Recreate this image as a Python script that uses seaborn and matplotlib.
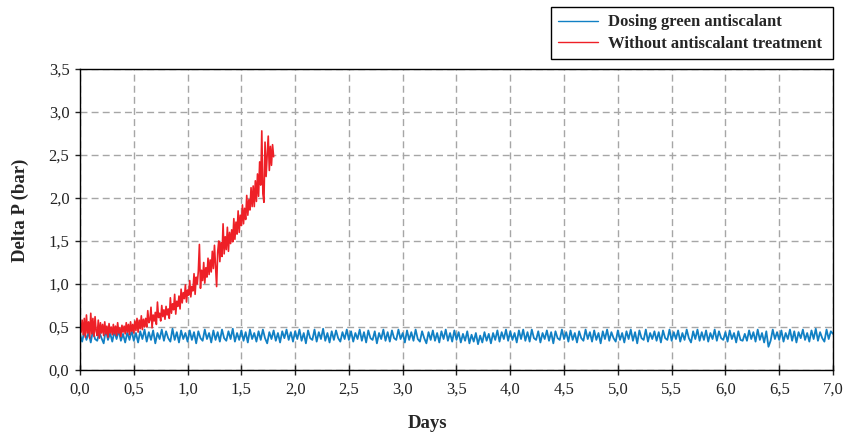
import numpy as np
import pandas as pd
import matplotlib
matplotlib.use("Agg")
import matplotlib.pyplot as plt
from matplotlib.ticker import FuncFormatter
import seaborn as sns

# ---- data ----
series_names = ["Dosing green antiscalant", "Without antiscalant treatment"]
x_ticks = [0.0, 0.5, 1.0, 1.5, 2.0, 2.5, 3.0, 3.5, 4.0, 4.5, 5.0, 5.5, 6.0, 6.5, 7.0]
y_ticks = [0.0, 0.5, 1.0, 1.5, 2.0, 2.5, 3.0, 3.5]

# red series: 0.00 .. 1.80 days, every 0.01 day
red_dp = [
    0.52, 0.44, 0.58, 0.41, 0.60, 0.38, 0.64, 0.43, 0.56, 0.37, 0.66,
    0.42, 0.60, 0.39, 0.62, 0.45, 0.40, 0.58, 0.37, 0.55, 0.43,
    0.53, 0.40, 0.56, 0.42, 0.51, 0.38, 0.54, 0.43, 0.50, 0.41,
    0.53, 0.42, 0.51, 0.40, 0.55, 0.43, 0.49, 0.39, 0.52, 0.44,
    0.51, 0.42, 0.55, 0.44, 0.53, 0.41, 0.56, 0.45, 0.53, 0.43,
    0.57, 0.46, 0.60, 0.44, 0.58, 0.48, 0.63, 0.47, 0.59, 0.50,
    0.60, 0.50, 0.69, 0.55, 0.58, 0.73, 0.49, 0.64, 0.57, 0.67,
    0.53, 0.79, 0.61, 0.66, 0.57, 0.75, 0.62, 0.70, 0.59, 0.74,
    0.64, 0.71, 0.60, 0.84, 0.66, 0.77, 0.70, 0.88, 0.65, 0.80,
    0.74, 0.86, 0.71, 0.94, 0.78, 0.90, 0.83, 0.99, 0.79, 0.93,
    0.87, 1.04, 0.85, 0.97, 0.92, 1.12, 0.88, 1.08, 1.00, 1.15,
    1.46, 0.95, 1.16, 1.04, 1.25, 1.01, 1.19, 1.08, 1.30, 1.11,
    1.28, 1.14, 1.38, 1.18, 1.45, 1.22, 0.97, 1.37, 1.50, 1.26,
    1.48, 1.32, 1.70, 1.35, 1.55, 1.40, 1.66, 1.38, 1.60, 1.47,
    1.63, 1.49, 1.76, 1.52, 1.72, 1.58, 1.85, 1.60, 1.80, 1.68,
    1.92, 1.70, 1.88, 1.75, 2.03, 1.80, 1.98, 1.86, 2.12, 1.90,
    2.14, 1.90, 2.20, 1.96, 2.28, 2.02, 2.42, 2.15, 2.78, 2.05,
    1.95, 2.65, 2.25, 2.50, 2.72, 2.32, 2.60, 2.38, 2.62, 2.48,
]

# blue series: 0.00 .. 7.00 days, every 0.02 day
blue_dp = [
    0.41, 0.33, 0.45, 0.35, 0.44, 0.32, 0.46, 0.36, 0.34, 0.44, 0.37, 0.31, 0.47, 0.35, 0.43, 0.33, 0.45, 0.36, 0.46, 0.34, 0.42, 0.32, 0.44, 0.35, 0.46,
    0.34, 0.43, 0.32, 0.45, 0.36, 0.47, 0.33, 0.44, 0.35, 0.46, 0.31, 0.43, 0.36, 0.47, 0.34, 0.45, 0.37, 0.33, 0.48, 0.35, 0.44, 0.32, 0.46, 0.36, 0.43,
    0.33, 0.46, 0.35, 0.44, 0.31, 0.45, 0.37, 0.34, 0.47, 0.36, 0.43, 0.32, 0.46, 0.35, 0.44, 0.33, 0.47, 0.37, 0.34, 0.45, 0.36, 0.48, 0.33, 0.43, 0.35,
    0.46, 0.34, 0.44, 0.32, 0.47, 0.36, 0.43, 0.33, 0.45, 0.35, 0.47, 0.37, 0.31, 0.44, 0.36, 0.46, 0.34, 0.43, 0.32, 0.45, 0.37, 0.47, 0.35, 0.44, 0.33,
    0.45, 0.36, 0.47, 0.34, 0.43, 0.31, 0.46, 0.37, 0.35, 0.47, 0.33, 0.44, 0.36, 0.48, 0.34, 0.43, 0.32, 0.45, 0.35, 0.46, 0.37, 0.33, 0.44, 0.36, 0.47,
    0.35, 0.45, 0.33, 0.43, 0.36, 0.47, 0.34, 0.44, 0.32, 0.46, 0.37, 0.35, 0.45, 0.31, 0.43, 0.36, 0.47, 0.34, 0.44, 0.33, 0.46, 0.37, 0.35, 0.47, 0.36,
    0.43, 0.32, 0.46, 0.35, 0.44, 0.34, 0.47, 0.36, 0.33, 0.45, 0.37, 0.31, 0.44, 0.35, 0.46, 0.34, 0.43, 0.32, 0.45, 0.36, 0.47, 0.34, 0.43, 0.33, 0.46,
    0.35, 0.44, 0.32, 0.42, 0.34, 0.45, 0.31, 0.41, 0.33, 0.43, 0.30, 0.40, 0.32, 0.44, 0.34, 0.42, 0.31, 0.43, 0.35, 0.46, 0.33, 0.44, 0.36, 0.47, 0.34,
    0.45, 0.35, 0.43, 0.32, 0.46, 0.36, 0.47, 0.34, 0.44, 0.33, 0.47, 0.37, 0.35, 0.45, 0.32, 0.43, 0.36, 0.46, 0.34, 0.44, 0.31, 0.45, 0.37, 0.35, 0.47,
    0.36, 0.44, 0.33, 0.46, 0.35, 0.43, 0.32, 0.45, 0.37, 0.34, 0.47, 0.36, 0.44, 0.33, 0.46, 0.35, 0.43, 0.31, 0.45, 0.36, 0.47, 0.34, 0.44, 0.37, 0.33,
    0.46, 0.35, 0.43, 0.32, 0.45, 0.36, 0.47, 0.34, 0.44, 0.31, 0.46, 0.37, 0.35, 0.47, 0.33, 0.43, 0.36, 0.45, 0.34, 0.44, 0.32, 0.46, 0.37, 0.35, 0.47,
    0.34, 0.44, 0.36, 0.46, 0.33, 0.43, 0.35, 0.47, 0.37, 0.32, 0.45, 0.36, 0.47, 0.34, 0.44, 0.35, 0.46, 0.33, 0.43, 0.36, 0.47, 0.34, 0.45, 0.37, 0.35,
    0.44, 0.33, 0.46, 0.36, 0.43, 0.32, 0.45, 0.35, 0.34, 0.42, 0.34, 0.46, 0.36, 0.44, 0.33, 0.47, 0.35, 0.43, 0.32, 0.45, 0.27, 0.34, 0.47, 0.36, 0.44,
    0.35, 0.46, 0.33, 0.43, 0.36, 0.47, 0.34, 0.45, 0.32, 0.44, 0.37, 0.47, 0.35, 0.43, 0.33, 0.46, 0.36, 0.48, 0.34, 0.44, 0.37, 0.33, 0.47, 0.36, 0.45,
    0.42,
]

red_days = np.linspace(0.0, 1.80, len(red_dp))
blue_days = np.linspace(0.0, 7.0, len(blue_dp))

blue_df = pd.DataFrame({"Days": blue_days, "dp": blue_dp})
red_df = pd.DataFrame({"Days": red_days, "dp": red_dp})

# ---- styling ----
sns.set_style("ticks")
plt.rcParams["font.family"] = ["Liberation Serif", "DejaVu Serif"]

W, H = 845, 438
fig = plt.figure(figsize=(W / 100, H / 100), dpi=100)
ax = fig.add_axes([80 / W, 1 - 370 / H, (833 - 80) / W, (370 - 69) / H])

BLUE = "#1180c4"
RED = "#ee2027"

sns.lineplot(data=blue_df, x="Days", y="dp", ax=ax, color=BLUE, lw=1.3,
             label=series_names[0], estimator=None, sort=False)
sns.lineplot(data=red_df, x="Days", y="dp", ax=ax, color=RED, lw=1.2,
             label=series_names[1], estimator=None, sort=False)

ax.set_xlim(0, 7.0)
ax.set_ylim(0, 3.5)
ax.set_xticks(x_ticks)
ax.set_yticks(y_ticks)
comma = FuncFormatter(lambda v, p: f"{v:.1f}".replace(".", ","))
ax.xaxis.set_major_formatter(comma)
ax.yaxis.set_major_formatter(comma)

ax.grid(True, color="#a6a6a6", linestyle=(0, (5, 3)), linewidth=1.0)
ax.set_axisbelow(True)
for s in ax.spines.values():
    s.set_visible(True)
    s.set_color("black")
    s.set_linewidth(1.0)

ax.tick_params(axis="y", direction="out", length=3.6, width=1, labelsize=12, pad=4, colors="#222222")
ax.tick_params(axis="x", direction="inout", length=7, width=1, labelsize=12, pad=5, colors="#222222")

ax.set_xlabel("Days", fontsize=13.5, fontweight="bold")
ax.set_ylabel("Delta P (bar)", fontsize=13.5, fontweight="bold")
ax.xaxis.label.set_va("center")
ax.yaxis.label.set_va("center")
ax.xaxis.set_label_coords((427.5 - 80) / 753, (370 - 423) / 301)
ax.yaxis.set_label_coords((20 - 80) / 753, (370 - 210) / 301)

ax.get_legend().remove()
handles, labels = ax.get_legend_handles_labels()
leg = fig.legend(handles, labels, loc="center",
                 bbox_to_anchor=(551 / W, 1 - 61 / H, (833 - 551) / W, (61 - 5) / H),
                 mode="expand", frameon=True, fancybox=False,
                 handlelength=2.35, handletextpad=0.6, borderpad=0.45,
                 labelspacing=0.3, borderaxespad=0.0,
                 prop={"weight": "bold", "size": 12, "family": ["Liberation Serif"]})
leg.get_frame().set_edgecolor("black")
leg.get_frame().set_linewidth(1.0)
leg.get_frame().set_alpha(1.0)
for line in leg.get_lines():
    line.set_linewidth(1.0)

fig.savefig("out.png", dpi=100)
